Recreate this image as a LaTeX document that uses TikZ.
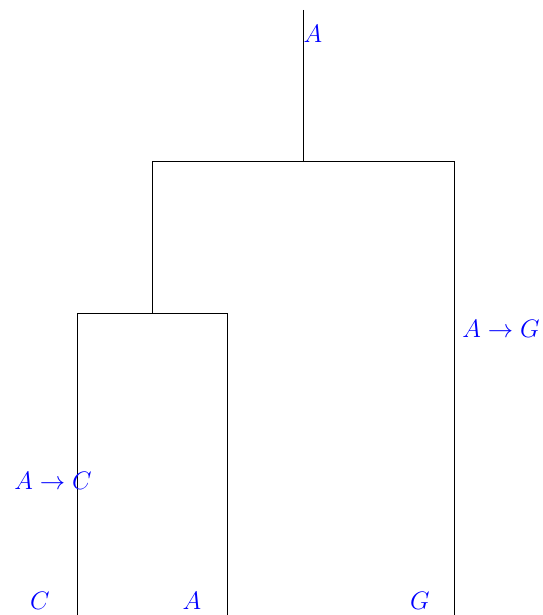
\documentclass[tikz,border=0pt]{standalone}
\usepackage{amsmath}
\usetikzlibrary{positioning}

\begin{document}
\begin{tikzpicture}[lab/.style={text=blue,inner sep=1pt,font=\Large}]
\useasboundingbox (0,0) rectangle (10.84,-12.3);
\coordinate (top) at (6.06,-0.2);
\coordinate (r) at (6.06,-3.22);
\coordinate (n1) at (3.04,-6.26);
\coordinate (lc) at (1.54,-12.3);
\coordinate (la) at (4.54,-12.3);
\coordinate (lg) at (9.08,-12.3);
\draw (top)--(r);
\draw (r)-|(n1);
\draw (r)-|(lg);
\draw (n1)-|(lc);
\draw (n1)-|(la);
\node[lab] (tA) at (6.26,-0.68) {$A$};
\node[lab] (eG) at (10.02,-6.58) {$A\to G$};
\node[lab] (eC) at (1.06,-9.62) {$A\to C$};
\node[lab] (xC) at (0.8,-12.02) {$C$};
\node[lab] (xA) at (3.84,-12.02) {$A$};
\node[lab] (xG) at (8.4,-12.02) {$G$};
\end{tikzpicture}
\end{document}
